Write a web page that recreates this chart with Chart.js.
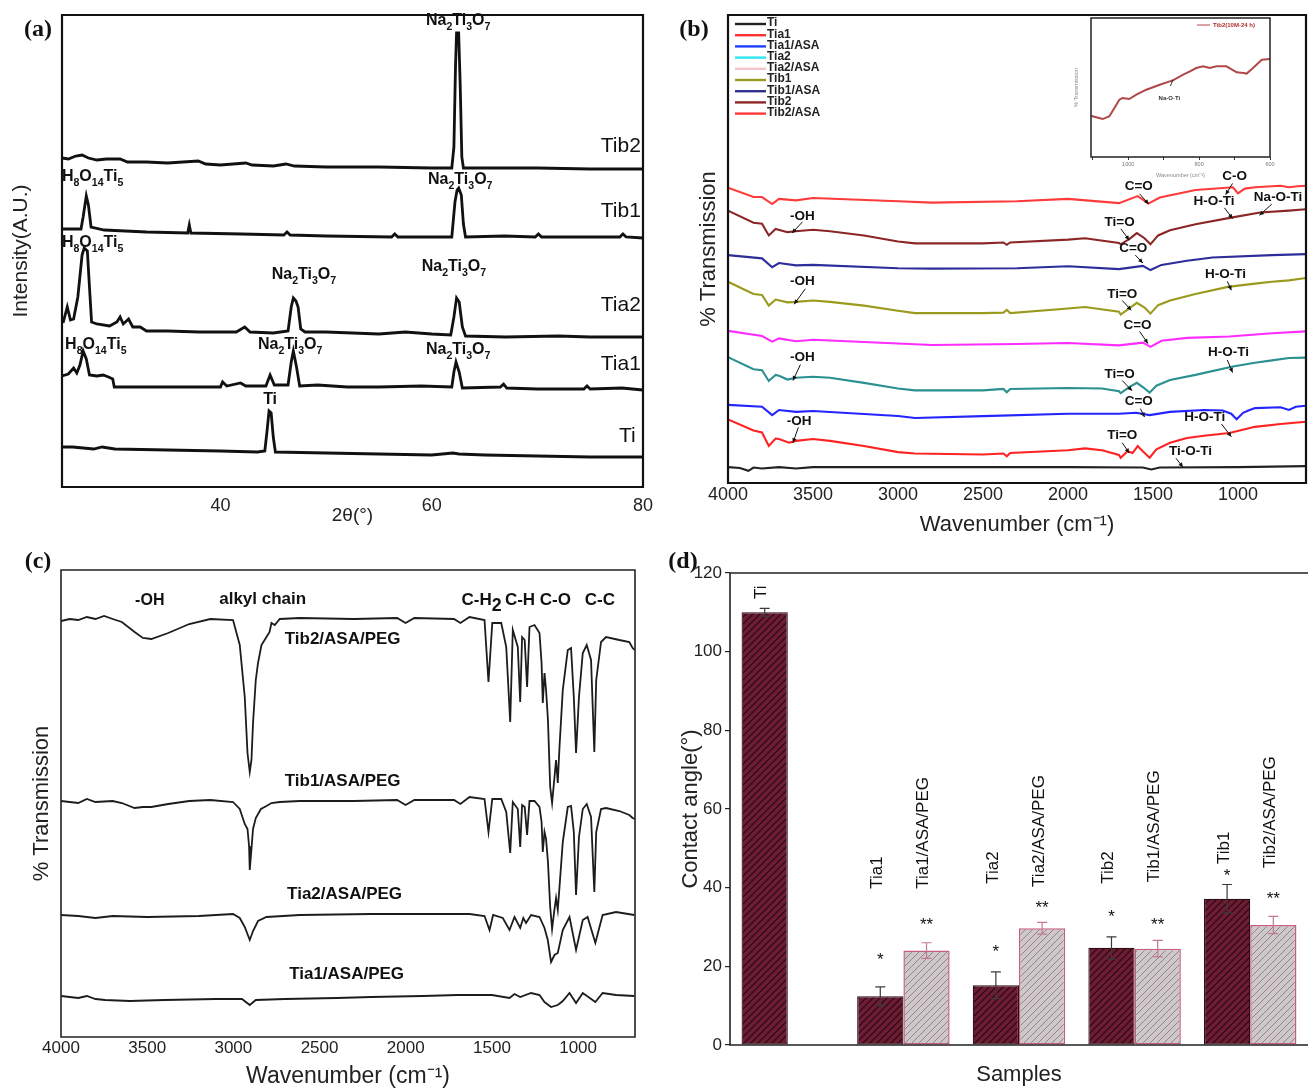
<!DOCTYPE html>
<html>
<head>
<meta charset="utf-8">
<script src="https://cdn.jsdelivr.net/npm/chart.js@4/dist/chart.umd.min.js"></script>
<style>
body { margin: 0; background: #fff; width: 1308px; height: 1088px; position: relative; overflow: hidden; }
canvas { position: absolute; }
.tag { position: absolute; font: bold 24px "Liberation Serif", "Times New Roman", serif; color: #111; transform: translate(-50%, -50%); }
</style>
</head>
<body>
<canvas id="cA" width="654" height="540" style="left:0;top:0"></canvas>
<canvas id="cB" width="654" height="540" style="left:654px;top:0"></canvas>
<canvas id="cIn" width="212" height="175" style="left:1068px;top:8px"></canvas>
<canvas id="cC" width="654" height="543" style="left:0;top:545px"></canvas>
<canvas id="cD" width="654" height="543" style="left:654px;top:545px"></canvas>
<div class="tag" style="left:38px;top:28px">(a)</div>
<div class="tag" style="left:694px;top:28px">(b)</div>
<div class="tag" style="left:38px;top:560px">(c)</div>
<div class="tag" style="left:683px;top:560px">(d)</div>
<script>
const FONT = '"Liberation Sans", Arial, Helvetica, sans-serif';
Chart.defaults.font.family = FONT;
Chart.defaults.color = '#222';

// ---- (a) XRD, 2theta vs intensity (offset traces, arbitrary units)
const xrdTicks = [40, 60, 80];
const xrdTib2 = [[25,329],[25.6,328],[26.3,331],[26.9,332],[27.5,329],[28.3,327],[29.2,328],[30.5,328],[31.2,325],[33,325],[35,324],[37.9,326],[38.6,323],[40,322],[42.4,324],[43,322],[45,321],[46.2,323],[47,321],[50,320],[55,320],[60,319],[61.9,319],[62.1,340],[62.25,420],[62.35,454],[62.55,454],[62.7,400],[62.85,330],[63.0,319],[66,319],[70,319],[75,318],[80,318]];
const xrdTib1 = [[25,258],[26.8,258],[27.0,270],[27.3,291],[27.5,282],[27.75,260],[29,257],[33,255],[36.9,254],[37.05,262],[37.2,254],[42,253],[46.0,252],[46.3,255],[46.6,252],[50,251],[56.2,250],[56.5,253],[56.8,250],[61.9,250],[62.2,285],[62.4,297],[62.55,299],[62.8,292],[63.0,263],[63.2,250],[66.9,251],[69.8,250],[70.1,253],[70.4,250],[75,250],[77.8,250],[78.1,253],[78.4,250],[80,249]];
const xrdTia2 = [[25.1,164],[25.5,180],[25.8,167],[26.1,168],[26.5,190],[26.9,232],[27.1,239],[27.4,236],[27.6,200],[27.8,165],[28.3,163],[29.5,161],[30.2,165],[30.5,170],[30.8,163],[31.3,168],[31.7,160],[32.4,160],[33,156],[35,156],[38,155],[41.5,155],[42.3,160],[42.8,155],[45,154],[46.4,156],[46.7,180],[46.9,189],[47.15,186],[47.35,180],[47.6,158],[48,155],[50,155],[55,153],[57.5,155],[60,153],[61.8,152],[62.1,170],[62.35,189],[62.6,185],[62.9,160],[63.2,151],[67,150],[72,151],[75,150],[80,150]];
const xrdTia1 = [[25,111],[25.6,113],[26.1,119],[26.4,114],[26.7,122],[27.0,136],[27.3,128],[27.6,112],[28.3,111],[28.9,112],[29.4,110],[29.8,108],[29.95,100],[40.0,100],[40.2,105],[40.6,101],[41.9,104],[42.4,101],[44.3,101],[44.7,112],[45.1,102],[46.4,102],[46.7,125],[46.9,136],[47.2,120],[47.5,101],[49.2,102],[52,100],[55,100],[59,101],[61.9,100],[62.1,115],[62.3,125],[62.6,115],[62.9,99],[66.5,100],[66.8,103],[67.1,99],[70,98],[74.4,98],[74.7,101],[75,98],[78,99],[80,97]];
const xrdTi = [[25,40],[26,40],[28,38],[28.8,40],[30,38],[35,37],[40,36],[43.5,35],[44.2,36],[44.4,55],[44.6,76],[44.8,74],[45.0,50],[45.2,35],[50,34],[55,33],[60,32],[62,34],[62.6,33],[65,32],[70,31],[75,30],[80,30]];

// ---- (b) FTIR of Ti samples, wavenumber vs % transmission (offset)
const ftTicks = [4000, 3500, 3000, 2500, 2000, 1500, 1000];
const ftTi = [[4000,3.4],[3930,3.2],[3880,2.6],[3850,3.3],[3800,3.1],[3700,3.4],[3600,3.1],[3500,3.4],[3000,3.4],[2500,3.4],[2000,3.4],[1560,3.3],[1510,2.9],[1460,3.3],[1000,3.4],[600,3.6]];
const ftTia1 = [[4000,13.6],[3850,11.2],[3800,10.8],[3760,7.9],[3720,9.5],[3700,9.4],[3640,8.6],[3600,9.0],[3500,9.4],[3400,9.0],[3200,7.9],[3000,6.6],[2900,6.3],[2500,6.1],[2380,6.3],[2360,5.7],[2340,6.4],[2000,7.0],[1900,7.4],[1800,7.0],[1700,6.0],[1690,5.4],[1650,6.8],[1620,6.4],[1590,7.9],[1560,6.8],[1520,5.4],[1480,7.2],[1400,8.6],[1300,9.6],[1200,10.1],[1050,10.7],[900,12.0],[750,12.6],[600,13.1]];
const ftTia1ASA = [[4000,16.7],[3800,16.3],[3740,14.5],[3700,15.6],[3600,15.2],[3500,15.4],[3000,14.3],[2900,13.9],[2500,14.3],[2000,14.8],[1700,14.8],[1600,15.0],[1520,14.5],[1400,15.2],[1200,15.6],[1090,15.5],[1040,14.8],[1008,13.6],[970,15.0],[939,15.5],[900,16.0],[750,16.2],[700,15.6],[660,16.3],[600,16.5]];
const ftTia2 = [[4000,26.9],[3850,24.3],[3800,24.1],[3760,21.8],[3720,23.1],[3700,22.9],[3650,22.1],[3600,22.5],[3500,22.7],[3400,22.5],[3200,21.4],[3000,20.2],[2900,19.8],[2500,19.8],[2380,20.1],[2360,19.4],[2340,20.1],[2000,20.3],[1800,20.2],[1700,19.6],[1690,19.2],[1640,20.5],[1595,21.4],[1560,20.5],[1520,19.3],[1480,20.8],[1400,22.0],[1250,23.1],[1030,24.9],[900,25.7],[800,26.2],[700,26.7],[600,26.8]];
const ftTia2ASA = [[4000,32.5],[3800,31.4],[3740,30.2],[3700,30.9],[3600,30.3],[3500,30.6],[3000,29.8],[2800,29.5],[2300,29.7],[2000,29.9],[1700,29.4],[1560,30.0],[1515,29.1],[1450,30.4],[1300,31.0],[1050,31.3],[800,32.0],[600,32.4]];
const ftTib1 = [[4000,43.0],[3850,40.4],[3800,40.2],[3760,37.9],[3720,39.2],[3650,38.6],[3600,38.7],[3500,39.0],[3400,38.7],[3200,37.9],[3000,36.8],[2900,36.3],[2500,36.3],[2380,36.4],[2360,37.0],[2340,36.3],[2000,37.3],[1900,37.6],[1700,36.6],[1690,36.0],[1640,37.3],[1595,38.5],[1550,37.5],[1515,36.2],[1470,38.0],[1400,39.0],[1250,40.4],[1060,41.9],[900,42.6],[800,43.0],[700,43.3],[600,43.8]];
const ftTib1ASA = [[4000,48.7],[3800,48.0],[3740,46.1],[3700,47.0],[3600,46.5],[3500,46.6],[3000,45.9],[2800,45.8],[2300,45.9],[2000,46.3],[1700,45.7],[1560,46.4],[1515,45.5],[1450,46.6],[1300,47.5],[1150,48.2],[800,48.7],[600,48.9]];
const ftTib2 = [[4000,58.2],[3850,55.6],[3800,55.4],[3760,52.9],[3720,54.3],[3650,53.6],[3600,53.8],[3500,54.1],[3400,53.8],[3200,52.9],[3000,51.6],[2900,51.2],[2500,51.2],[2380,51.4],[2360,50.9],[2340,51.4],[2000,52.0],[1900,52.3],[1700,51.3],[1690,51.0],[1640,52.1],[1595,53.4],[1550,52.3],[1515,51.0],[1470,52.9],[1400,54.0],[1250,55.3],[1040,56.7],[870,57.8],[700,58.2],[600,58.5]];
const ftTib2ASA = [[4000,63.1],[3850,61.1],[3800,61.1],[3740,59.6],[3700,60.7],[3600,60.4],[3500,60.9],[3000,60.2],[2800,59.9],[2300,60.2],[2000,60.7],[1700,59.8],[1590,61.3],[1527,59.7],[1460,61.0],[1250,62.6],[1030,63.2],[1000,61.9],[960,62.9],[900,63.2],[750,63.5],[700,63.2],[650,63.4],[600,63.5]];
const ftNames = ['Ti', 'Tia1', 'Tia1/ASA', 'Tia2', 'Tia2/ASA', 'Tib1', 'Tib1/ASA', 'Tib2', 'Tib2/ASA'];

// inset: Tib2 (10M-24 h), 1105-600 cm-1
const insetTicks = [1100, 1000, 900, 800, 700, 600];
const insetShown = [1000, 800, 600];
const insetTib2 = [[1107,29.7],[1072,27.3],[1053,29.3],[1025,41.2],[1016,42.4],[997,41.7],[977,44.8],[949,48.4],[911,52],[883,54.4],[874,55.2],[845,59.2],[826,61.6],[808,64.0],[789,65.2],[770,64.0],[751,65.2],[723,65.2],[694,60.9],[675,60.4],[666,60.0],[651,63.3],[623,70.0],[600,70.5]];

// ---- (c) FTIR of PEG coated samples
const pegTib2 = [[4000,416],[3950,418],[3900,417],[3850,420],[3800,418],[3750,421],[3700,418],[3647,415],[3573,405],[3525,399],[3476,398],[3378,404],[3256,413],[3134,418],[3002,417],[2963,392],[2934,340],[2918,284],[2905,265],[2895,277],[2886,314],[2870,357],[2857,374],[2837,392],[2808,400],[2790,405],[2779,414],[2760,412],[2731,418],[2615,419],[2300,418],[2050,419],[2001,414],[1950,419],[1720,418],[1683,414],[1630,420],[1543,417],[1520,355],[1498,414],[1446,414],[1417,390],[1394,315],[1379,407],[1350,390],[1336,335],[1325,400],[1310,397],[1296,350],[1282,410],[1253,412],[1224,404],[1212,374],[1205,334],[1195,364],[1186,347],[1175,317],[1162,250],[1151,234],[1137,260],[1128,277],[1118,254],[1108,290],[1089,347],[1060,387],[1041,389],[1025,340],[1012,284],[995,340],[973,384],[950,392],[925,377],[906,285],[895,357],[867,395],[838,400],[761,397],[703,395],[684,389],[671,387]];
const pegTib1 = [[4000,236],[3900,234],[3850,238],[3800,235],[3700,236],[3647,234],[3573,229],[3525,230],[3476,230],[3378,233],[3256,236],[3134,237],[3002,235],[2963,228],[2934,213],[2918,208],[2909,191],[2905,167],[2895,188],[2886,208],[2870,219],[2840,228],[2808,231],[2779,234],[2731,235],[2615,236],[2300,236],[2050,237],[2001,232],[1950,237],[1720,237],[1683,233],[1630,240],[1543,238],[1520,205],[1498,238],[1446,238],[1417,225],[1394,184],[1379,235],[1350,228],[1336,190],[1325,232],[1310,230],[1296,202],[1282,236],[1253,236],[1224,230],[1212,215],[1205,185],[1195,205],[1186,198],[1175,175],[1162,130],[1151,108],[1137,128],[1128,139],[1118,127],[1108,150],[1089,195],[1060,230],[1041,231],[1025,205],[1012,142],[995,200],[973,228],[950,233],[925,220],[906,145],[895,205],[867,228],[838,229],[761,226],[703,222],[684,219],[671,218]];
const pegTia2 = [[4000,122],[3900,121],[3800,119],[3700,121],[3500,120],[3200,121],[3002,123],[2963,119],[2934,110],[2905,97],[2886,106],[2857,116],[2808,120],[2615,122],[2200,123],[1900,123],[1630,123],[1543,121],[1514,107],[1493,122],[1437,119],[1398,107],[1369,120],[1336,109],[1318,119],[1302,114],[1273,122],[1224,120],[1195,109],[1176,97],[1157,75],[1137,82],[1118,84],[1089,107],[1050,120],[1012,87],[973,117],[945,120],[900,94],[858,122],[780,125],[674,122]];
const pegTia1 = [[4000,41],[3900,39],[3850,41],[3800,38],[3744,37],[3600,36],[3400,37],[3100,38],[2950,38],[2905,32],[2870,37],[2700,38],[2400,39],[2200,40],[1900,41],[1700,42],[1630,42],[1500,42],[1398,39],[1369,43],[1336,40],[1273,44],[1224,42],[1195,35],[1157,30],[1118,32],[1089,36],[1050,44],[1012,34],[973,44],[900,35],[858,44],[780,42],[674,41]];

// ---- (d) contact angle
const angleTicks = [0, 20, 40, 60, 80, 100, 120];
const bareNames = ['Ti', 'Tia1', 'Tia2', 'Tib2', 'Tib1'];
const coatNames = ['', 'Tia1/ASA/PEG', 'Tia2/ASA/PEG', 'Tib1/ASA/PEG', 'Tib2/ASA/PEG'];
const angleBare = [110, 12.4, 15.2, 24.7, 37.2];
const errBare = [1.0, 2.4, 3.4, 2.8, 3.6];
const angleCoat = [null, 24.0, 29.7, 24.5, 30.5];
const errCoat = [null, 2.0, 1.5, 2.1, 2.2];
const bareStars = ['', '*', '*', '*', '*'];
const coatStars = ['', '**', '**', '**', '**'];

// draws "Na{2}Ti{3}O{7}" with subscripts
function subText(ctx, str, x, y, size, bold, align, subScale) {
  const segs = str.split(/(\{[^}]*\})/).filter(s => s.length).map(s =>
    s[0] === '{' ? { t: s.slice(1, -1), sub: true } : { t: s, sub: false });
  const fnt = sg => (bold ? 'bold ' : '') + (sg.sub ? size * (subScale || 0.66) : size) + 'px ' + FONT;
  let w = 0;
  segs.forEach(sg => { ctx.font = fnt(sg); sg.w = ctx.measureText(sg.t).width; w += sg.w; });
  let cx = align === 'right' ? x - w : align === 'left' ? x : x - w / 2;
  ctx.textAlign = 'left';
  ctx.textBaseline = 'middle';
  segs.forEach(sg => {
    ctx.font = fnt(sg);
    ctx.fillText(sg.t, cx, sg.sub ? y + size * 0.38 : y);
    cx += sg.w;
  });
}

const notes = {
  id: 'notes',
  afterDatasetsDraw(chart, args, o) {
    const { ctx, scales: { x, y } } = chart;
    ctx.save();
    ctx.fillStyle = o.color || '#111';
    ctx.strokeStyle = o.color || '#111';
    (o.items || []).forEach(n => {
      subText(ctx, n.t, x.getPixelForValue(n.x), y.getPixelForValue(n.y), n.size || o.size,
        n.bold === undefined ? o.bold : n.bold, n.align || 'center', n.sub);
      if (n.a) {
        const x1 = x.getPixelForValue(n.a[0]), y1 = y.getPixelForValue(n.a[1]);
        const x2 = x.getPixelForValue(n.a[2]), y2 = y.getPixelForValue(n.a[3]);
        ctx.lineWidth = 1;
        ctx.beginPath(); ctx.moveTo(x1, y1); ctx.lineTo(x2, y2); ctx.stroke();
        const ang = Math.atan2(y2 - y1, x2 - x1), h = o.head || 5;
        ctx.beginPath(); ctx.moveTo(x2, y2);
        ctx.lineTo(x2 - h * Math.cos(ang - 0.45), y2 - h * Math.sin(ang - 0.45));
        ctx.lineTo(x2 - h * Math.cos(ang + 0.45), y2 - h * Math.sin(ang + 0.45));
        ctx.closePath(); ctx.fill();
      }
    });
    ctx.restore();
  }
};

const frame = {
  id: 'frame',
  afterDraw(chart, args, o) {
    const { ctx, chartArea: a } = chart;
    ctx.save();
    ctx.strokeStyle = o.color || '#111';
    ctx.lineWidth = o.width || 2;
    ctx.beginPath();
    if (o.open) {
      ctx.moveTo(a.right, a.top); ctx.lineTo(a.left, a.top);
      ctx.lineTo(a.left, a.bottom); ctx.lineTo(a.right, a.bottom);
    } else {
      ctx.rect(a.left, a.top, a.right - a.left, a.bottom - a.top);
    }
    ctx.stroke();
    ctx.restore();
  }
};

// legend of panel (b): short coloured lines stacked in the top-left corner
const lineLegend = {
  id: 'lineLegend',
  afterDraw(chart, args, o) {
    const ctx = chart.ctx;
    ctx.save();
    ctx.font = 'bold 12px ' + FONT;
    ctx.textBaseline = 'middle';
    ctx.textAlign = 'left';
    chart.data.datasets.forEach((ds, i) => {
      const y = o.top + i * o.step;
      ctx.strokeStyle = ds.legendColor || ds.borderColor;
      ctx.lineWidth = 2.4;
      ctx.beginPath(); ctx.moveTo(o.left, y); ctx.lineTo(o.left + 31, y); ctx.stroke();
      ctx.fillStyle = '#222';
      ctx.fillText(ds.label, o.left + 32, y - 1);
    });
    ctx.restore();
  }
};

// fixes an axis box size, and drops the label overflow padding
function fixed(w, h) {
  return s => {
    if (w !== undefined) s.width = w;
    if (h !== undefined) s.height = h;
    s.paddingLeft = 0; s.paddingRight = 0;
  };
}
function tickList(arr) {
  return s => { s.ticks = arr.map(v => ({ value: v })); };
}
function series(data, color, width) {
  return { data: data, borderColor: color, borderWidth: width, pointRadius: 0, tension: 0, fill: false };
}
const plain = v => String(v);

// ---------- (a)
new Chart(document.getElementById('cA'), {
  type: 'line',
  data: { datasets: [xrdTib2, xrdTib1, xrdTia2, xrdTia1, xrdTi].map(d => series(d, '#111', 2.8)) },
  options: {
    responsive: false, animation: false, devicePixelRatio: 1,
    layout: { padding: { left: 0, top: 15, right: 11, bottom: 0 } },
    scales: {
      x: { type: 'linear', min: 25, max: 80, afterFit: fixed(undefined, 53), afterBuildTicks: tickList(xrdTicks),
        grid: { display: false, drawTicks: false }, border: { display: false },
        ticks: { font: { size: 18 }, padding: 8, color: '#222', callback: plain },
        title: { display: true, text: '2θ(°)', font: { size: 19 }, padding: { bottom: 13 }, color: '#222' } },
      y: { min: 0, max: 472, afterFit: fixed(62), grid: { display: false }, border: { display: false },
        ticks: { display: false },
        title: { display: true, text: 'Intensity(A.U.)', font: { size: 21 }, padding: { top: 9 }, color: '#222' } }
    },
    plugins: {
      legend: { display: false }, tooltip: { enabled: false },
      frame: { width: 2.2, color: '#111' },
      notes: { size: 16, bold: true, items: [
        { t: 'Na{2}Ti{3}O{7}', x: 62.5, y: 466 },
        { t: 'Na{2}Ti{3}O{7}', x: 62.7, y: 307 },
        { t: 'H{8}O{14}Ti{5}', x: 27.9, y: 310 },
        { t: 'H{8}O{14}Ti{5}', x: 27.9, y: 244 },
        { t: 'Na{2}Ti{3}O{7}', x: 47.9, y: 212 },
        { t: 'Na{2}Ti{3}O{7}', x: 62.1, y: 220 },
        { t: 'H{8}O{14}Ti{5}', x: 28.2, y: 142 },
        { t: 'Na{2}Ti{3}O{7}', x: 46.6, y: 142 },
        { t: 'Na{2}Ti{3}O{7}', x: 62.5, y: 137 },
        { t: 'Ti', x: 44.7, y: 87 },
        { t: 'Tib2', x: 79.8, y: 341, size: 21, bold: false, align: 'right' },
        { t: 'Tib1', x: 79.8, y: 276, size: 21, bold: false, align: 'right' },
        { t: 'Tia2', x: 79.8, y: 182, size: 21, bold: false, align: 'right' },
        { t: 'Tia1', x: 79.8, y: 123, size: 21, bold: false, align: 'right' },
        { t: 'Ti', x: 79.3, y: 51, size: 21, bold: false, align: 'right' }
      ] }
    }
  },
  plugins: [notes, frame]
});

// ---------- (b)
const ftData = [ftTi, ftTia1, ftTia1ASA, ftTia2, ftTia2ASA, ftTib1, ftTib1ASA, ftTib2, ftTib2ASA];
const ftColors = ['#222222', '#ff2222', '#2424ff', '#2a9090', '#ff2cff', '#9a9a1c', '#2c2c9a', '#8c2626', '#ff3a3a'];
const ftLegendColors = ['#222222', '#ff3030', '#2040ff', '#30e8f0', '#f8c4cc', '#9a9a20', '#303090', '#902828', '#ff3838'];
new Chart(document.getElementById('cB'), {
  type: 'line',
  data: { datasets: ftData.map((d, i) => Object.assign(series(d, ftColors[i], 2.1),
    { label: ftNames[i], legendColor: ftLegendColors[i] })) },
  options: {
    responsive: false, animation: false, devicePixelRatio: 1,
    layout: { padding: { left: 0, top: 15, right: 2, bottom: 0 } },
    scales: {
      x: { type: 'linear', min: 600, max: 4000, reverse: true, afterFit: fixed(undefined, 57),
        afterBuildTicks: tickList(ftTicks), grid: { display: false, drawTicks: false }, border: { display: false },
        ticks: { font: { size: 18 }, padding: 1, color: '#222', callback: plain },
        title: { display: true, text: 'Wavenumber (cm⁻¹)', font: { size: 22 }, padding: { bottom: 2 }, color: '#222' } },
      y: { min: 0, max: 100, afterFit: fixed(74), grid: { display: false }, border: { display: false },
        ticks: { display: false },
        title: { display: true, text: '% Transmission', font: { size: 22 }, padding: { top: 42 }, color: '#222' } }
    },
    plugins: {
      legend: { display: false }, tooltip: { enabled: false },
      frame: { width: 2.2, color: '#111' },
      lineLegend: { left: 81, top: 24, step: 11.2 },
      notes: { size: 13.5, bold: true, head: 5, items: [
        { t: 'C=O', x: 1584, y: 63.3, a: [1579, 61.8, 1526, 59.6] },
        { t: 'C-O', x: 1020, y: 65.5, a: [1032, 64.0, 1073, 61.6] },
        { t: 'H-O-Ti', x: 1141, y: 60.2, a: [1080, 58.8, 1032, 56.5] },
        { t: 'Na-O-Ti', x: 764, y: 61.1, a: [801, 59.6, 874, 57.2] },
        { t: '-OH', x: 3562, y: 57.0, a: [3562, 55.8, 3623, 53.4] },
        { t: 'Ti=O', x: 1696, y: 55.8, a: [1689, 54.3, 1640, 51.9] },
        { t: 'C=O', x: 1616, y: 50.1, a: [1604, 48.7, 1560, 47.0] },
        { t: '-OH', x: 3562, y: 43.1, a: [3545, 41.5, 3611, 38.2] },
        { t: 'Ti=O', x: 1681, y: 40.4, a: [1681, 39.0, 1628, 36.9] },
        { t: 'H-O-Ti', x: 1073, y: 44.7, a: [1063, 43.1, 1039, 41.2] },
        { t: 'C=O', x: 1591, y: 33.8, a: [1579, 32.4, 1530, 29.8] },
        { t: '-OH', x: 3562, y: 26.8, a: [3574, 25.3, 3618, 21.9] },
        { t: 'Ti=O', x: 1696, y: 23.2, a: [1681, 21.9, 1623, 19.7] },
        { t: 'H-O-Ti', x: 1056, y: 28.0, a: [1063, 26.3, 1032, 23.6] },
        { t: 'C=O', x: 1584, y: 17.5, a: [1574, 15.9, 1550, 14.1] },
        { t: 'H-O-Ti', x: 1195, y: 14.1, a: [1097, 12.6, 1039, 9.9] },
        { t: '-OH', x: 3582, y: 13.2, a: [3586, 11.9, 3618, 8.6] },
        { t: 'Ti=O', x: 1681, y: 10.1, a: [1681, 8.6, 1640, 6.4] },
        { t: 'Ti-O-Ti', x: 1280, y: 6.8, a: [1365, 5.3, 1324, 3.4] }
      ] }
    }
  },
  plugins: [notes, frame, lineLegend]
});

// inset of (b)
new Chart(document.getElementById('cIn'), {
  type: 'line',
  data: { datasets: [series(insetTib2, '#b04848', 2)] },
  options: {
    responsive: false, animation: false, devicePixelRatio: 1,
    layout: { padding: { left: 0, top: 10, right: 10, bottom: 0 } },
    scales: {
      x: { type: 'linear', min: 600, max: 1105, reverse: true, afterFit: fixed(undefined, 26),
        afterBuildTicks: tickList(insetTicks),
        grid: { display: true, drawOnChartArea: false, drawTicks: true, tickLength: 3, color: '#333' },
        border: { display: false },
        ticks: { font: { size: 5.5 }, padding: 1, color: '#777', callback: v => insetShown.includes(v) ? String(v) : '' },
        title: { display: true, text: 'Wavenumber (cm⁻¹)', font: { size: 5.5 }, padding: { bottom: 4 }, color: '#888' } },
      y: { min: 0, max: 100, afterFit: fixed(23), grid: { display: false }, border: { display: false },
        ticks: { display: false },
        title: { display: true, text: '% Transmission', font: { size: 5.5 }, padding: { top: 5 }, color: '#888' } }
    },
    plugins: {
      legend: { display: false }, tooltip: { enabled: false },
      frame: { width: 1.5, color: '#222' },
      notes: { size: 6, bold: true, head: 2, color: '#333', items: [
        { t: 'Na-O-Ti', x: 884, y: 42.2, a: [881, 51.1, 874, 55.4] }
      ] }
    }
  },
  plugins: [notes, frame, {
    id: 'insetKey',
    afterDraw(chart) {
      const ctx = chart.ctx;
      ctx.save();
      ctx.strokeStyle = '#c04848'; ctx.lineWidth = 1;
      ctx.beginPath(); ctx.moveTo(129, 17); ctx.lineTo(142, 17); ctx.stroke();
      ctx.fillStyle = '#b02a2a'; ctx.font = 'bold 6px ' + FONT; ctx.textBaseline = 'middle';
      ctx.fillText('Tib2(10M-24 h)', 145, 17);
      ctx.restore();
    }
  }]
});

// ---------- (c)
new Chart(document.getElementById('cC'), {
  type: 'line',
  data: { datasets: [pegTib2, pegTib1, pegTia2, pegTia1].map(d => series(d, '#1c1c1c', 1.8)) },
  options: {
    responsive: false, animation: false, devicePixelRatio: 1,
    layout: { padding: { left: 0, top: 25, right: 19, bottom: 0 } },
    scales: {
      x: { type: 'linear', min: 670, max: 4000, reverse: true, afterFit: fixed(undefined, 51),
        afterBuildTicks: tickList(ftTicks), grid: { display: false, drawTicks: false }, border: { display: false },
        ticks: { font: { size: 17 }, padding: 1, color: '#222', callback: plain },
        title: { display: true, text: 'Wavenumber (cm⁻¹)', font: { size: 23, lineHeight: 1 }, padding: { bottom: 0 }, color: '#222' } },
      y: { min: 0, max: 467, afterFit: fixed(61), grid: { display: false }, border: { display: false },
        ticks: { display: false },
        title: { display: true, text: '% Transmission', font: { size: 22 }, padding: { top: 29 }, color: '#222' } }
    },
    plugins: {
      legend: { display: false }, tooltip: { enabled: false },
      frame: { width: 1.6, color: '#222' },
      notes: { size: 17, bold: true, items: [
        { t: '-OH', x: 3485, y: 436, size: 16 },
        { t: 'alkyl chain', x: 2830, y: 438 },
        { t: 'C-H{2}', x: 1560, y: 437, sub: 1.05 },
        { t: 'C-H', x: 1337, y: 437 },
        { t: 'C-O', x: 1132, y: 437 },
        { t: 'C-C', x: 874, y: 437 },
        { t: 'Tib2/ASA/PEG', x: 2366, y: 398 },
        { t: 'Tib1/ASA/PEG', x: 2366, y: 256 },
        { t: 'Tia2/ASA/PEG', x: 2355, y: 143 },
        { t: 'Tia1/ASA/PEG', x: 2343, y: 63 }
      ] }
    }
  },
  plugins: [notes, frame]
});

// ---------- (d)
function hatch(bg, line, lw) {
  const c = document.createElement('canvas');
  c.width = c.height = 7;
  const g = c.getContext('2d');
  g.fillStyle = bg; g.fillRect(0, 0, 7, 7);
  g.strokeStyle = line; g.lineWidth = lw;
  g.beginPath();
  g.moveTo(0, 7); g.lineTo(7, 0);
  g.moveTo(-1, 1); g.lineTo(1, -1);
  g.moveTo(6, 8); g.lineTo(8, 6);
  g.stroke();
  return g.createPattern(c, 'repeat');
}

// error bars, rotated sample names and significance stars
const barTags = {
  id: 'barTags',
  afterDatasetsDraw(chart) {
    const { ctx, scales: { y } } = chart;
    ctx.save();
    chart.data.datasets.forEach((ds, i) => {
      chart.getDatasetMeta(i).data.forEach((bar, j) => {
        const v = ds.data[j];
        if (v == null) return;
        const e = ds.errors[j];
        const t = y.getPixelForValue(v + e), b = y.getPixelForValue(v - e);
        ctx.strokeStyle = ds.errColor; ctx.lineWidth = 1.2;
        ctx.beginPath();
        ctx.moveTo(bar.x, t); ctx.lineTo(bar.x, b);
        ctx.moveTo(bar.x - 5, t); ctx.lineTo(bar.x + 5, t);
        ctx.moveTo(bar.x - 5, b); ctx.lineTo(bar.x + 5, b);
        ctx.stroke();
        ctx.fillStyle = '#111';
        ctx.save();
        ctx.translate(bar.x - 3, y.getPixelForValue(ds.tagAt[j]));
        ctx.rotate(-Math.PI / 2);
        ctx.font = '17px ' + FONT; ctx.textAlign = 'left'; ctx.textBaseline = 'middle';
        ctx.fillText(ds.tags[j], 0, 0);
        ctx.restore();
        if (ds.stars[j]) {
          ctx.font = '17px ' + FONT; ctx.textAlign = 'center'; ctx.textBaseline = 'alphabetic';
          ctx.fillText(ds.stars[j], bar.x, y.getPixelForValue(ds.starAt[j]) + 10);
        }
      });
    });
    ctx.restore();
  }
};

new Chart(document.getElementById('cD'), {
  type: 'bar',
  data: {
    labels: bareNames,
    datasets: [
      { data: angleBare, errors: errBare, tags: bareNames, tagAt: [113.4, 39.7, 41, 41, 46],
        stars: bareStars, starAt: [null, 23, 25, 33.7, 44.2],
        backgroundColor: hatch('#6e1c34', '#22080f', 1.1), borderColor: '#2a0c14', borderWidth: 1.2,
        borderSkipped: false, errColor: '#3a3a3a' },
      { data: angleCoat, errors: errCoat, tags: coatNames, tagAt: [null, 39.7, 40.2, 41.4, 45],
        stars: coatStars, starAt: [null, 31.8, 36.2, 31.8, 38.4],
        backgroundColor: hatch('#cdc8c9', '#9c7f88', 1.0), borderColor: '#c4607c', borderWidth: 1.5,
        borderSkipped: false, errColor: '#c07a8e' }
    ]
  },
  options: {
    responsive: false, animation: false, devicePixelRatio: 1,
    layout: { padding: { left: 0, top: 28, right: 0, bottom: 0 } },
    datasets: { bar: { barPercentage: 1.0, categoryPercentage: 0.8 } },
    scales: {
      x: { afterFit: fixed(undefined, 43), grid: { display: false }, border: { display: false },
        ticks: { display: false },
        title: { display: true, text: 'Samples', font: { size: 22 }, padding: { bottom: 0 }, color: '#222' } },
      y: { min: 0, max: 120, afterFit: fixed(76), afterBuildTicks: tickList(angleTicks),
        grid: { display: true, drawOnChartArea: false, drawTicks: true, tickLength: 5, color: '#222', lineWidth: 1.2 },
        border: { display: false },
        ticks: { font: { size: 17 }, padding: 3, color: '#222', callback: plain },
        title: { display: true, text: 'Contact angle(°)', font: { size: 22 }, padding: { top: 24 }, color: '#222' } }
    },
    plugins: {
      legend: { display: false }, tooltip: { enabled: false },
      frame: { width: 1.6, color: '#222', open: true }
    }
  },
  plugins: [barTags, frame]
});
</script>
</body>
</html>
